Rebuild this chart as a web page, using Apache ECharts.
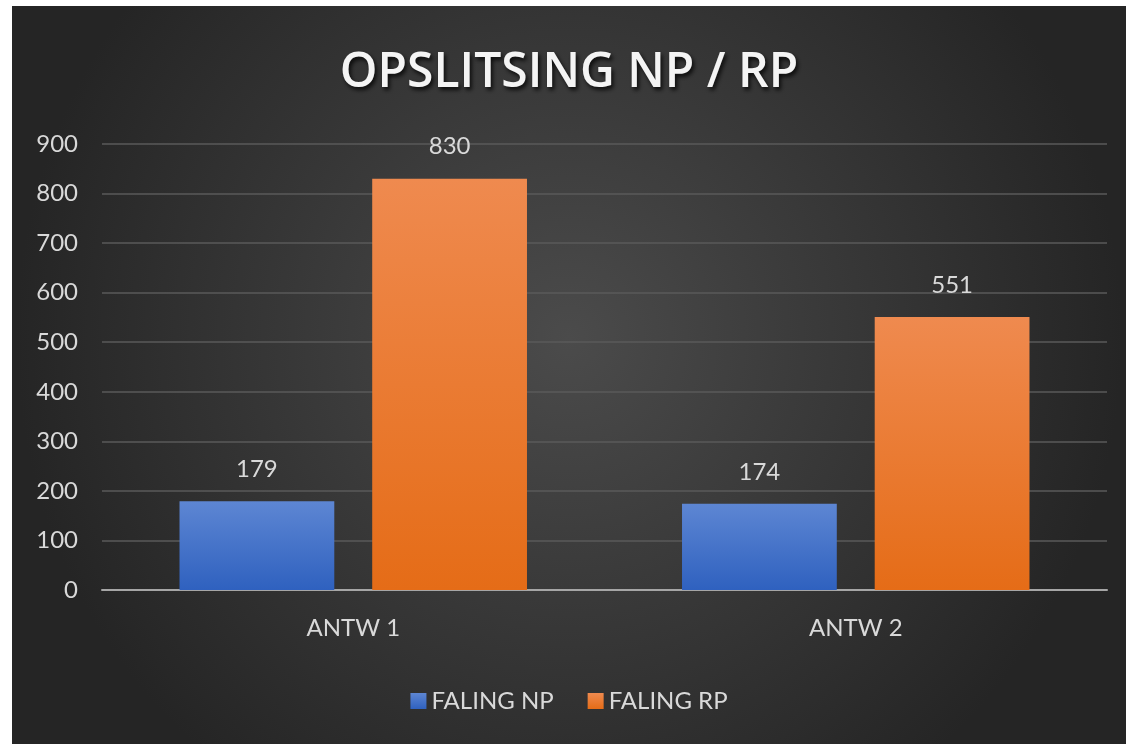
<!DOCTYPE html>
<html><head><meta charset="utf-8">
<script src="https://cdn.jsdelivr.net/npm/echarts@6/dist/echarts.min.js"></script>
<style>html,body{margin:0;padding:0;background:#fff;}#c{position:absolute;left:12px;top:6px;width:1114px;height:738px;}</style>
</head><body><div id="c"></div>
<script>
const categories = ['ANTW 1', 'ANTW 2'];
const seriesNames = ['FALING NP', 'FALING RP'];
const faling_np = [179, 174];
const faling_rp = [830, 551];
const yTicks = [0, 100, 200, 300, 400, 500, 600, 700, 800, 900];

const chart = echarts.init(document.getElementById('c'));
const font = 'Lato, "Open Sans", sans-serif';
function grad(top, bottom){ return new echarts.graphic.LinearGradient(0,0,0,1,[{offset:0,color:top},{offset:1,color:bottom}]); }
chart.setOption({
  backgroundColor: new echarts.graphic.RadialGradient(0.5, 0.45, 0.75, [{offset:0,color:'#4b4b4b'},{offset:1,color:'#252525'}]),
  title: {
    text: 'OPSLITSING NP / RP', left: 'center', top: 38,
    textStyle: {color:'#f4f4f4', fontFamily:'"Open Sans", sans-serif', fontWeight:600, fontSize:48,
      textShadowColor:'rgba(0,0,0,0.8)', textShadowBlur:4, textShadowOffsetX:2, textShadowOffsetY:3}
  },
  legend: {
    data: seriesNames, bottom: 26, left: 'center', itemWidth: 16, itemHeight: 16, itemGap: 34,
    icon: 'rect',
    textStyle: {color:'#d9d9d9', fontSize:24, fontFamily:font}
  },
  grid: {left: 90, right: 19, top: 138, bottom: 154},
  xAxis: {
    type: 'category', data: categories,
    axisLine: {lineStyle:{color:'#a6a6a6', width:2}},
    axisTick: {show:false},
    axisLabel: {color:'#d9d9d9', fontSize:24, fontFamily:font, margin:26}
  },
  yAxis: {
    type: 'value', min: 0, max: 900, interval: 100,
    axisLine: {show:false}, axisTick: {show:false},
    splitLine: {lineStyle:{color:'#5a5a5a', width:1.5}},
    axisLabel: {color:'#d9d9d9', fontSize:24, fontFamily:font, margin:24,
      formatter: v => yTicks.includes(v) ? String(v) : ''}
  },
  series: [
    {name: seriesNames[0], type:'bar', data: faling_np, barWidth:'30.8%', barGap:'24.5%',
     itemStyle:{color: grad('#5d86d3','#2f61bf')},
     label:{show:true, position:'top', distance:20, color:'#d9d9d9', fontSize:24, fontFamily:font}},
    {name: seriesNames[1], type:'bar', data: faling_rp, barWidth:'30.8%', barGap:'24.5%',
     itemStyle:{color: grad('#ef8a4f','#e56c17')},
     label:{show:true, position:'top', distance:20, color:'#d9d9d9', fontSize:24, fontFamily:font}}
  ]
});
</script></body></html>
